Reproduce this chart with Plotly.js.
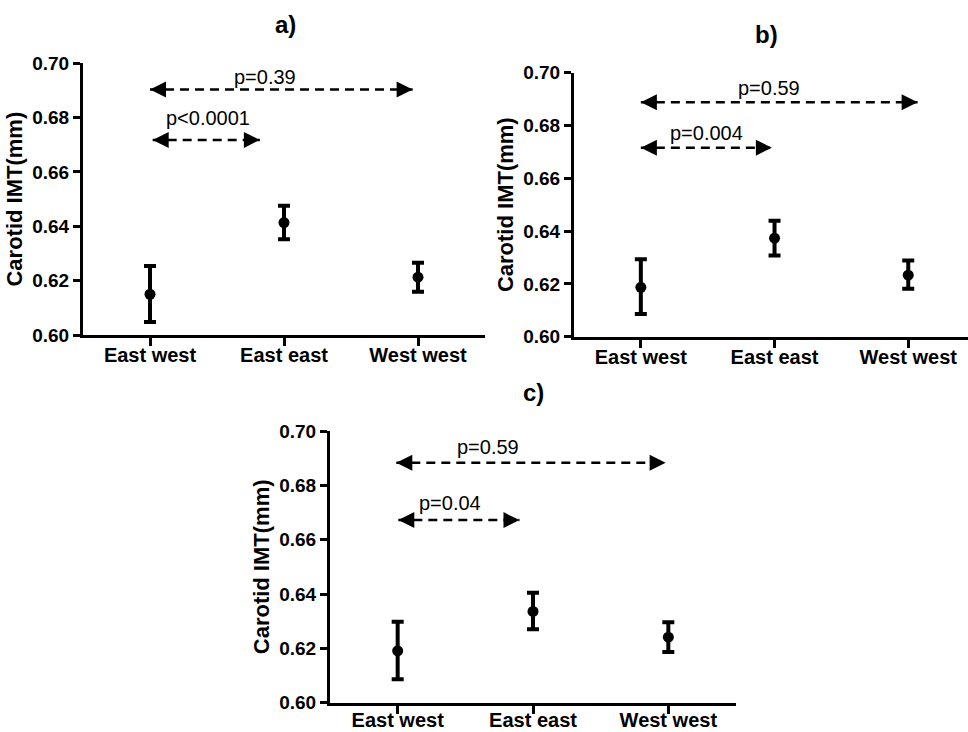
<!DOCTYPE html>
<html>
<head>
<meta charset="utf-8">
<script src="https://cdn.plot.ly/plotly-3.0.1.min.js"></script>
<style>
  html, body { margin: 0; padding: 0; background: #fff; }
  #chart { width: 968px; height: 732px; }
</style>
</head>
<body>
<div id="chart"></div>
<script>
// ---------- data ----------
const categories = ['East west', 'East east', 'West west'];
const tickValues = [0.60, 0.62, 0.64, 0.66, 0.68, 0.70];

// panel a
const meanA  = [0.6150, 0.6414, 0.6213];
const errUpA = [0.0104, 0.0062, 0.0053];
const errDnA = [0.0102, 0.0062, 0.0054];
// panel b
const meanB  = [0.6187, 0.6373, 0.6233];
const errUpB = [0.0106, 0.0066, 0.0056];
const errDnB = [0.0101, 0.0065, 0.0051];
// panel c
const meanC  = [0.6191, 0.6336, 0.6241];
const errUpC = [0.0107, 0.0069, 0.0055];
const errDnC = [0.0105, 0.0066, 0.0054];

// comparisons (p-value arrows): from / to in category units, level in mm
const pTextA   = ['p=0.39', 'p&lt;0.0001'];
const pFromA   = [0.00, 0.02];
const pToA     = [1.96, 0.82];
const pLevelA  = [0.6904, 0.6718];
const pLabelXA = [0.86, 0.43];
const pLabelYA = [0.6948, 0.6797];

const pTextB   = ['p=0.59', 'p=0.004'];
const pFromB   = [0.00, 0.00];
const pToB     = [2.07, 0.98];
const pLevelB  = [0.6888, 0.6716];
const pLabelXB = [0.96, 0.49];
const pLabelYB = [0.6941, 0.6773];

const pTextC   = ['p=0.59', 'p=0.04'];
const pFromC   = [-0.01, 0.005];
const pToC     = [1.98, 0.90];
const pLevelC  = [0.6883, 0.6672];
const pLabelXC = [0.67, 0.39];
const pLabelYC = [0.6942, 0.6736];

const panelLabels = ['a)', 'b)', 'c)'];
const yTitle = 'Carotid IMT(mm)';

// ---------- build ----------
const FONT = 'Liberation Sans, Arial, Helvetica, sans-serif';
const panels = [
  {mean: meanA, up: errUpA, dn: errDnA, pt: pTextA, pf: pFromA, ptTo: pToA, pl: pLevelA, plx: pLabelXA, ply: pLabelYA, xa: 'x',  ya: 'y'},
  {mean: meanB, up: errUpB, dn: errDnB, pt: pTextB, pf: pFromB, ptTo: pToB, pl: pLevelB, plx: pLabelXB, ply: pLabelYB, xa: 'x2', ya: 'y2'},
  {mean: meanC, up: errUpC, dn: errDnC, pt: pTextC, pf: pFromC, ptTo: pToC, pl: pLevelC, plx: pLabelXC, ply: pLabelYC, xa: 'x3', ya: 'y3'}
];

const traces = [];
const annotations = [];
const catIdx = categories.map((c, i) => i);

panels.forEach((p, k) => {
  traces.push({
    type: 'scatter', mode: 'markers',
    x: catIdx, y: p.mean, xaxis: p.xa, yaxis: p.ya,
    marker: {color: '#000', size: 11},
    error_y: {type: 'data', symmetric: false, array: p.up, arrayminus: p.dn,
              color: '#000', thickness: 4, width: 6},
    showlegend: false, hoverinfo: 'skip'
  });
  p.pt.forEach((t, j) => {
    traces.push({
      type: 'scatter', mode: 'lines+markers',
      x: [p.pf[j], p.ptTo[j]], y: [p.pl[j], p.pl[j]],
      xaxis: p.xa, yaxis: p.ya,
      line: {color: '#000', width: 2.5, dash: '9px,6px'},
      marker: {color: '#000', size: 16, symbol: ['arrow-left', 'arrow-right']},
      showlegend: false, hoverinfo: 'skip'
    });
    annotations.push({
      xref: p.xa, yref: p.ya, x: p.plx[j], y: p.ply[j],
      text: t, showarrow: false, xanchor: 'center', yanchor: 'middle',
      font: {family: FONT, size: 20, color: '#000'}
    });
  });
});

// panel letters
const letterPos = [[285.5, 24], [766.5, 34], [533.5, 392.5]];
panelLabels.forEach((l, i) => {
  annotations.push({
    xref: 'paper', yref: 'paper',
    x: letterPos[i][0] / 968, y: 1 - letterPos[i][1] / 732,
    xanchor: 'center', yanchor: 'middle', showarrow: false,
    text: l, font: {family: FONT, size: 24, color: '#000', weight: 'bold'}
  });
});

// cropped running text at the top of the page
annotations.push({
  xref: 'paper', yref: 'paper', x: 262 / 968, y: 1 - 2 / 732,
  xanchor: 'left', yanchor: 'bottom', showarrow: false,
  text: 'group members (Figure 1a), and in the women (Figure 1b)',
  font: {family: 'Liberation Serif, Times New Roman, serif', size: 28, color: '#000'}
});

function xAxis(domain, range, anchor, standoff) {
  return {
    domain: domain, range: range, anchor: anchor, type: 'linear',
    tickvals: catIdx, ticktext: categories,
    showline: true, linecolor: '#000', linewidth: 3,
    ticks: 'outside', ticklen: 8, tickwidth: 3, tickcolor: '#000',
    ticklabelstandoff: standoff,
    showgrid: false, zeroline: false, fixedrange: true,
    tickfont: {family: FONT, size: 20, color: '#000', weight: 'bold'}
  };
}
function yAxis(domain, anchor) {
  return {
    domain: domain, range: [0.60, 0.70], anchor: anchor,
    tickvals: tickValues, tickformat: '.2f',
    showline: true, linecolor: '#000', linewidth: 3,
    ticks: 'outside', ticklen: 7, tickwidth: 3, tickcolor: '#000',
    showgrid: false, zeroline: false, fixedrange: true,
    tickfont: {family: FONT, size: 19, color: '#000', weight: 'bold'},
    title: {text: yTitle, standoff: 4, font: {family: FONT, size: 22, color: '#000', weight: 'bold'}}
  };
}

const layout = {
  width: 968, height: 732,
  margin: {l: 0, r: 0, t: 0, b: 0},
  paper_bgcolor: '#fff', plot_bgcolor: '#fff',
  showlegend: false,
  xaxis:  xAxis([83 / 968, 485 / 968], [-0.5, 2.5], 'y', -8),
  yaxis:  yAxis([1 - 335 / 732, 1 - 63.3 / 732], 'x'),
  xaxis2: xAxis([574 / 968, 1], [-0.5, 2.447], 'y2', -8),
  yaxis2: yAxis([1 - 336.7 / 732, 1 - 72.7 / 732], 'x2'),
  xaxis3: xAxis([330 / 968, 736 / 968], [-0.5, 2.5], 'y3', -11),
  yaxis3: yAxis([1 - 702.7 / 732, 1 - 431 / 732], 'x3'),
  annotations: annotations
};

Plotly.newPlot('chart', traces, layout, {displayModeBar: false, staticPlot: true});
</script>
</body>
</html>
